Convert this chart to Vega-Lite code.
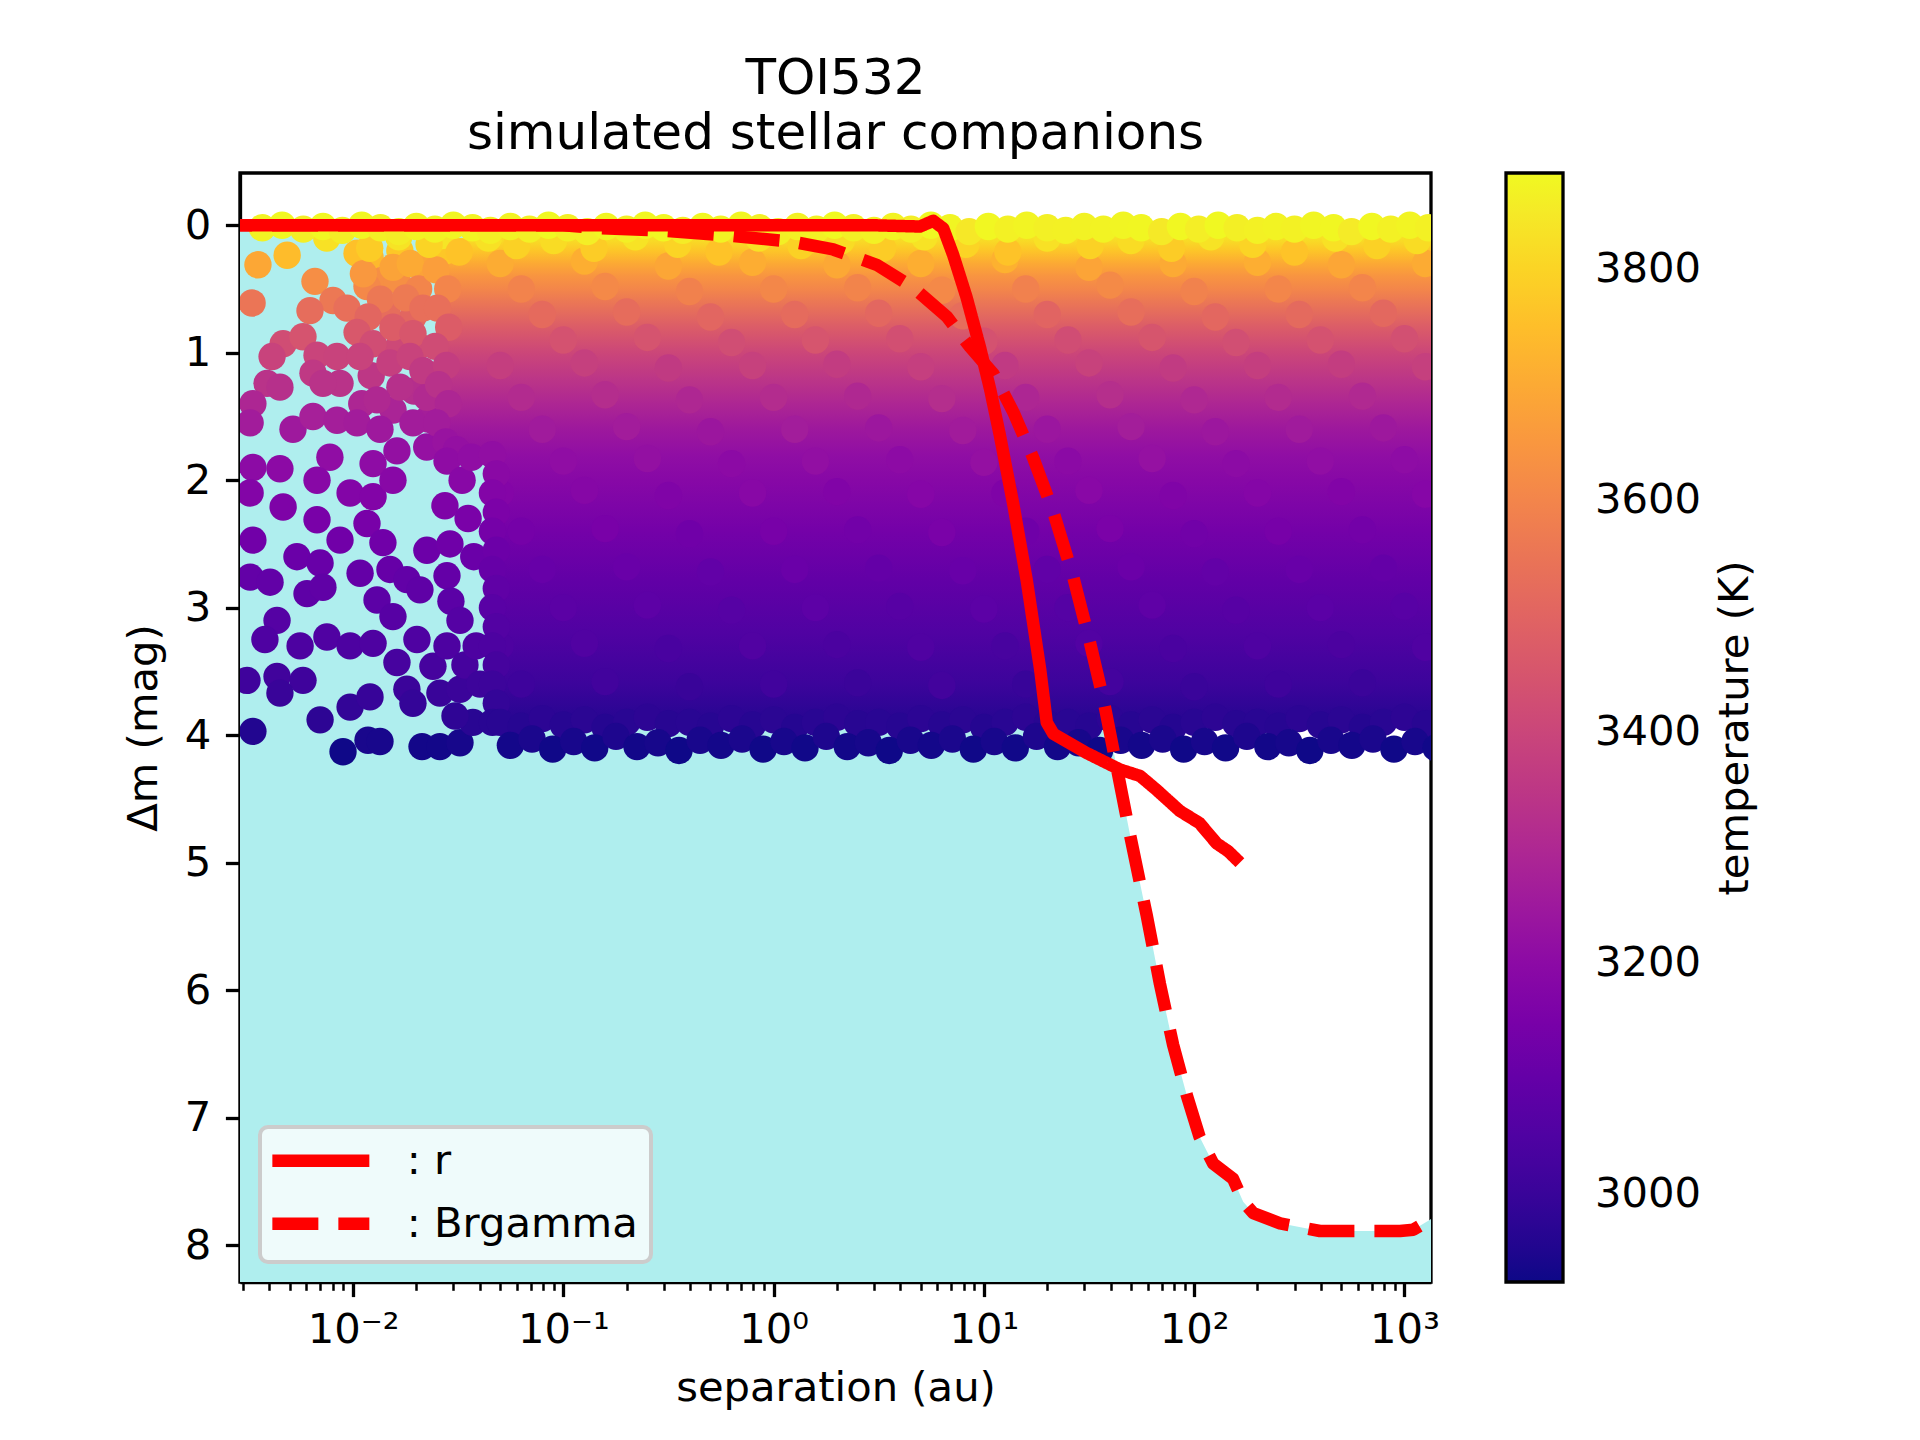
{
"$schema": "https://vega.github.io/schema/vega-lite/v6.json",
"width": 1191,
"height": 1109,
"autosize": {"type": "none"},
"padding": {"left": 240, "top": 173, "right": 489, "bottom": 158},
"background": "white",
"title": {"text": ["TOI532", "simulated stellar companions"], "fontSize": 50, "font": "DejaVu Sans", "fontWeight": "normal", "color": "black", "anchor": "middle", "lineHeight": 55, "offset": 14},
"resolve": {"axis": {"y": "independent"}},
"datasets": {
"curves": [
{"s":0.002,"m":0.0,"band":": r"},{"s":0.1,"m":0.0,"band":": r"},{"s":1.0,"m":0.0,"band":": r"},{"s":3.0,"m":0.0,"band":": r"},{"s":4.97,"m":0.01,"band":": r"},{"s":5.74,"m":-0.035,"band":": r"},{"s":6.41,"m":0.025,"band":": r"},{"s":7.15,"m":0.235,"band":": r"},{"s":8.27,"m":0.565,"band":": r"},{"s":9.57,"m":0.955,"band":": r"},{"s":10.7,"m":1.285,"band":": r"},{"s":11.9,"m":1.645,"band":": r"},{"s":13.8,"m":2.19,"band":": r"},{"s":16.0,"m":2.79,"band":": r"},{"s":18.5,"m":3.48,"band":": r"},{"s":19.9,"m":3.9,"band":": r"},{"s":21.4,"m":3.99,"band":": r"},{"s":30.8,"m":4.14,"band":": r"},{"s":44.4,"m":4.27,"band":": r"},{"s":55.3,"m":4.32,"band":": r"},{"s":66.3,"m":4.43,"band":": r"},{"s":85.5,"m":4.595,"band":": r"},{"s":106,"m":4.69,"band":": r"},{"s":128,"m":4.85,"band":": r"},{"s":145,"m":4.91,"band":": r"},{"s":165,"m":5.0,"band":": r"},
{"s":0.002,"m":0.0,"band":": Brgamma"},{"s":0.1,"m":0.0,"band":": Brgamma"},{"s":0.138,"m":0.02,"band":": Brgamma"},{"s":0.288,"m":0.04,"band":": Brgamma"},{"s":0.6,"m":0.08,"band":": Brgamma"},{"s":1.24,"m":0.13,"band":": Brgamma"},{"s":1.92,"m":0.19,"band":": Brgamma"},{"s":3.09,"m":0.31,"band":": Brgamma"},{"s":4.62,"m":0.49,"band":": Brgamma"},{"s":6.65,"m":0.715,"band":": Brgamma"},{"s":8.59,"m":0.955,"band":": Brgamma"},{"s":11.1,"m":1.165,"band":": Brgamma"},{"s":13.8,"m":1.465,"band":": Brgamma"},{"s":17.2,"m":1.83,"band":": Brgamma"},{"s":21.4,"m":2.25,"band":": Brgamma"},{"s":26.6,"m":2.76,"band":": Brgamma"},{"s":31.9,"m":3.27,"band":": Brgamma"},{"s":37,"m":3.72,"band":": Brgamma"},{"s":42.8,"m":4.25,"band":": Brgamma"},{"s":49.5,"m":4.78,"band":": Brgamma"},{"s":59.4,"m":5.41,"band":": Brgamma"},{"s":68.7,"m":5.95,"band":": Brgamma"},{"s":79.4,"m":6.43,"band":": Brgamma"},{"s":92,"m":6.82,"band":": Brgamma"},{"s":106,"m":7.15,"band":": Brgamma"},{"s":123,"m":7.36,"band":": Brgamma"},{"s":153,"m":7.48,"band":": Brgamma"},{"s":171,"m":7.66,"band":": Brgamma"},{"s":191,"m":7.75,"band":": Brgamma"},{"s":256,"m":7.83,"band":": Brgamma"},{"s":396,"m":7.89,"band":": Brgamma"},{"s":685,"m":7.89,"band":": Brgamma"},{"s":952,"m":7.89,"band":": Brgamma"},{"s":1102,"m":7.88,"band":": Brgamma"},{"s":1298,"m":7.81,"band":": Brgamma"},{"s":1500,"m":7.74,"band":": Brgamma"}
],
"pts": [
{"s":0.0501,"m":0.3,"t":3705},{"s":0.126,"m":0.28,"t":3712},{"s":0.316,"m":0.32,"t":3690},{"s":0.794,"m":0.29,"t":3708},{"s":2.0,"m":0.31,"t":3695},{"s":5.01,"m":0.3,"t":3712},{"s":12.6,"m":0.27,"t":3718},{"s":31.6,"m":0.33,"t":3686},{"s":79.4,"m":0.3,"t":3700},{"s":200,"m":0.29,"t":3710},{"s":501,"m":0.31,"t":3692},{"s":1259,"m":0.3,"t":3703},
{"s":0.0631,"m":0.5,"t":3595},{"s":0.158,"m":0.48,"t":3612},{"s":0.398,"m":0.52,"t":3590},{"s":1.0,"m":0.5,"t":3606},{"s":2.51,"m":0.49,"t":3598},{"s":6.31,"m":0.51,"t":3610},{"s":15.8,"m":0.5,"t":3588},{"s":39.8,"m":0.47,"t":3615},{"s":100,"m":0.52,"t":3592},{"s":251,"m":0.5,"t":3604},{"s":631,"m":0.49,"t":3600},
{"s":0.0794,"m":0.7,"t":3520},{"s":0.2,"m":0.68,"t":3525},{"s":0.501,"m":0.72,"t":3505},{"s":1.26,"m":0.7,"t":3522},{"s":3.16,"m":0.69,"t":3510},{"s":7.94,"m":0.71,"t":3528},{"s":20,"m":0.7,"t":3500},{"s":50.1,"m":0.68,"t":3530},{"s":126,"m":0.72,"t":3508},{"s":316,"m":0.7,"t":3518},{"s":794,"m":0.69,"t":3512},
{"s":0.1,"m":0.9,"t":3440},{"s":0.251,"m":0.88,"t":3445},{"s":0.631,"m":0.92,"t":3425},{"s":1.58,"m":0.9,"t":3448},{"s":3.98,"m":0.89,"t":3430},{"s":10,"m":0.91,"t":3438},{"s":25.1,"m":0.9,"t":3422},{"s":63.1,"m":0.88,"t":3450},{"s":158,"m":0.92,"t":3428},{"s":398,"m":0.9,"t":3440},{"s":1000,"m":0.89,"t":3432},
{"s":0.0501,"m":1.1,"t":3375},{"s":0.126,"m":1.08,"t":3380},{"s":0.316,"m":1.12,"t":3362},{"s":0.794,"m":1.1,"t":3385},{"s":2.0,"m":1.09,"t":3368},{"s":5.01,"m":1.11,"t":3378},{"s":12.6,"m":1.1,"t":3360},{"s":31.6,"m":1.08,"t":3388},{"s":79.4,"m":1.12,"t":3365},{"s":200,"m":1.1,"t":3376},{"s":501,"m":1.09,"t":3370},{"s":1259,"m":1.11,"t":3380},
{"s":0.0631,"m":1.35,"t":3310},{"s":0.158,"m":1.33,"t":3318},{"s":0.398,"m":1.37,"t":3298},{"s":1.0,"m":1.35,"t":3315},{"s":2.51,"m":1.34,"t":3302},{"s":6.31,"m":1.36,"t":3320},{"s":15.8,"m":1.35,"t":3295},{"s":39.8,"m":1.33,"t":3322},{"s":100,"m":1.37,"t":3300},{"s":251,"m":1.35,"t":3312},{"s":631,"m":1.34,"t":3305},
{"s":0.0794,"m":1.6,"t":3255},{"s":0.2,"m":1.58,"t":3260},{"s":0.501,"m":1.62,"t":3242},{"s":1.26,"m":1.6,"t":3262},{"s":3.16,"m":1.59,"t":3245},{"s":7.94,"m":1.61,"t":3258},{"s":20,"m":1.6,"t":3240},{"s":50.1,"m":1.58,"t":3265},{"s":126,"m":1.62,"t":3244},{"s":316,"m":1.6,"t":3255},{"s":794,"m":1.59,"t":3248},
{"s":0.1,"m":1.85,"t":3212},{"s":0.251,"m":1.83,"t":3220},{"s":0.631,"m":1.87,"t":3200},{"s":1.58,"m":1.85,"t":3218},{"s":3.98,"m":1.84,"t":3204},{"s":10,"m":1.86,"t":3222},{"s":25.1,"m":1.85,"t":3198},{"s":63.1,"m":1.83,"t":3224},{"s":158,"m":1.87,"t":3202},{"s":398,"m":1.85,"t":3214},{"s":1000,"m":1.84,"t":3206},
{"s":0.0501,"m":2.1,"t":3180},{"s":0.126,"m":2.08,"t":3186},{"s":0.316,"m":2.12,"t":3168},{"s":0.794,"m":2.1,"t":3190},{"s":2.0,"m":2.09,"t":3172},{"s":5.01,"m":2.11,"t":3185},{"s":12.6,"m":2.1,"t":3166},{"s":31.6,"m":2.08,"t":3192},{"s":79.4,"m":2.12,"t":3170},{"s":200,"m":2.1,"t":3182},{"s":501,"m":2.09,"t":3174},{"s":1259,"m":2.11,"t":3185},
{"s":0.0631,"m":2.4,"t":3142},{"s":0.158,"m":2.38,"t":3150},{"s":0.398,"m":2.42,"t":3130},{"s":1.0,"m":2.4,"t":3148},{"s":2.51,"m":2.39,"t":3134},{"s":6.31,"m":2.41,"t":3152},{"s":15.8,"m":2.4,"t":3128},{"s":39.8,"m":2.38,"t":3155},{"s":100,"m":2.42,"t":3132},{"s":251,"m":2.4,"t":3145},{"s":631,"m":2.39,"t":3137},
{"s":0.0794,"m":2.7,"t":3108},{"s":0.2,"m":2.68,"t":3114},{"s":0.501,"m":2.72,"t":3096},{"s":1.26,"m":2.7,"t":3115},{"s":3.16,"m":2.69,"t":3100},{"s":7.94,"m":2.71,"t":3112},{"s":20,"m":2.7,"t":3094},{"s":50.1,"m":2.68,"t":3118},{"s":126,"m":2.72,"t":3098},{"s":316,"m":2.7,"t":3110},{"s":794,"m":2.69,"t":3102},
{"s":0.1,"m":3.0,"t":3078},{"s":0.251,"m":2.98,"t":3084},{"s":0.631,"m":3.02,"t":3066},{"s":1.58,"m":3.0,"t":3085},{"s":3.98,"m":2.99,"t":3070},{"s":10,"m":3.01,"t":3082},{"s":25.1,"m":3.0,"t":3064},{"s":63.1,"m":2.98,"t":3088},{"s":158,"m":3.02,"t":3068},{"s":398,"m":3.0,"t":3080},{"s":1000,"m":2.99,"t":3072},
{"s":0.0501,"m":3.3,"t":3048},{"s":0.126,"m":3.28,"t":3054},{"s":0.316,"m":3.32,"t":3036},{"s":0.794,"m":3.3,"t":3055},{"s":2.0,"m":3.29,"t":3040},{"s":5.01,"m":3.31,"t":3052},{"s":12.6,"m":3.3,"t":3034},{"s":31.6,"m":3.28,"t":3058},{"s":79.4,"m":3.32,"t":3038},{"s":200,"m":3.3,"t":3050},{"s":501,"m":3.29,"t":3042},{"s":1259,"m":3.31,"t":3052},
{"s":0.0631,"m":3.6,"t":3012},{"s":0.158,"m":3.58,"t":3020},{"s":0.398,"m":3.62,"t":3000},{"s":1.0,"m":3.6,"t":3018},{"s":2.51,"m":3.59,"t":3004},{"s":6.31,"m":3.61,"t":3022},{"s":15.8,"m":3.6,"t":2998},{"s":39.8,"m":3.58,"t":3024},{"s":100,"m":3.62,"t":3002},{"s":251,"m":3.6,"t":3014},{"s":631,"m":3.59,"t":3006},
{"s":0.00486,"m":0.235,"t":3745},{"s":0.00353,"m":0.31,"t":3694},{"s":0.00659,"m":0.44,"t":3624},{"s":0.00331,"m":0.61,"t":3551},{"s":0.01204,"m":0.25,"t":3735},{"s":0.01387,"m":0.43,"t":3628},{"s":0.01617,"m":0.43,"t":3628},{"s":0.02244,"m":0.33,"t":3682},{"s":0.01165,"m":0.48,"t":3608},{"s":0.01449,"m":0.67,"t":3527},{"s":0.01927,"m":0.72,"t":3507},{"s":0.00803,"m":0.59,"t":3560},{"s":0.00936,"m":0.65,"t":3535},{"s":0.00624,"m":0.67,"t":3527},{"s":0.01045,"m":0.22,"t":3756},{"s":0.0167,"m":0.2,"t":3770},{"s":0.0155,"m":0.33,"t":3682},{"s":0.0187,"m":0.3,"t":3700},{"s":0.0205,"m":0.5,"t":3600},
{"s":0.0112,"m":0.38,"t":3652},{"s":0.0135,"m":0.58,"t":3560},{"s":0.0178,"m":0.57,"t":3565},{"s":0.0215,"m":0.65,"t":3535},{"s":0.0118,"m":0.72,"t":3507},{"s":0.0162,"m":0.97,"t":3410},{"s":0.0205,"m":0.95,"t":3418},{"s":0.0122,"m":1.18,"t":3350},{"s":0.0155,"m":1.45,"t":3285},{"s":0.0195,"m":1.3,"t":3320},{"s":0.0228,"m":1.52,"t":3266},{"s":0.011,"m":1.4,"t":3295},
{"s":0.00465,"m":0.93,"t":3424},{"s":0.00578,"m":0.875,"t":3445},{"s":0.00412,"m":1.03,"t":3392},{"s":0.00674,"m":1.02,"t":3395},{"s":0.00839,"m":1.03,"t":3392},{"s":0.01045,"m":0.84,"t":3459},{"s":0.01245,"m":0.93,"t":3424},{"s":0.01548,"m":0.8,"t":3475},{"s":0.01927,"m":0.85,"t":3455},{"s":0.0039,"m":1.24,"t":3335},{"s":0.00449,"m":1.27,"t":3327},{"s":0.00645,"m":1.16,"t":3356},{"s":0.00867,"m":1.24,"t":3335},{"s":0.0108,"m":1.03,"t":3392},{"s":0.01498,"m":1.08,"t":3378},{"s":0.01865,"m":1.03,"t":3392},{"s":0.02148,"m":1.14,"t":3361},{"s":0.00334,"m":1.4,"t":3295},{"s":0.00719,"m":1.24,"t":3335},{"s":0.0167,"m":1.27,"t":3327},{"s":0.013,"m":1.37,"t":3302},{"s":0.02244,"m":1.35,"t":3307},{"s":0.00324,"m":1.55,"t":3261},{"s":0.00518,"m":1.6,"t":3250},{"s":0.00645,"m":1.5,"t":3272},{"s":0.00839,"m":1.53,"t":3266},{"s":0.01045,"m":1.55,"t":3261},{"s":0.01343,"m":1.6,"t":3250},{"s":0.01927,"m":1.55,"t":3261},{"s":0.0224,"m":1.74,"t":3225},
{"s":0.0275,"m":0.2,"t":3770},{"s":0.0248,"m":0.35,"t":3670},{"s":0.0282,"m":0.5,"t":3600},{"s":0.0252,"m":0.65,"t":3535},{"s":0.0285,"m":0.8,"t":3475},{"s":0.0246,"m":0.95,"t":3418},{"s":0.0278,"m":1.1,"t":3372},{"s":0.0255,"m":1.25,"t":3332},{"s":0.0284,"m":1.4,"t":3295},{"s":0.025,"m":1.55,"t":3261},{"s":0.0276,"m":1.7,"t":3232},{"s":0.0265,"m":0.08,"t":3840},{"s":0.031,"m":1.76,"t":3222},
{"s":0.00334,"m":1.9,"t":3202},{"s":0.00449,"m":1.91,"t":3201},{"s":0.00776,"m":1.82,"t":3213},{"s":0.01245,"m":1.87,"t":3206},{"s":0.01617,"m":1.77,"t":3220},{"s":0.00674,"m":2.0,"t":3190},{"s":0.00968,"m":2.1,"t":3177},{"s":0.01245,"m":2.13,"t":3174},{"s":0.01548,"m":2.0,"t":3190},{"s":0.00324,"m":2.1,"t":3177},{"s":0.00465,"m":2.21,"t":3164},{"s":0.00674,"m":2.31,"t":3151},{"s":0.00867,"m":2.47,"t":3131},{"s":0.01165,"m":2.34,"t":3148},{"s":0.01387,"m":2.49,"t":3129},{"s":0.00334,"m":2.47,"t":3131},{"s":0.00541,"m":2.6,"t":3115},{"s":0.00697,"m":2.65,"t":3110},{"s":0.0108,"m":2.73,"t":3102},{"s":0.01498,"m":2.7,"t":3105},{"s":0.01803,"m":2.78,"t":3097},{"s":0.0208,"m":2.86,"t":3089},{"s":0.02244,"m":2.55,"t":3121},{"s":0.00324,"m":2.76,"t":3099},{"s":0.00403,"m":2.8,"t":3095},{"s":0.00604,"m":2.89,"t":3086},{"s":0.00719,"m":2.84,"t":3091},{"s":0.013,"m":2.94,"t":3081},{"s":0.01548,"m":3.07,"t":3068},{"s":0.00435,"m":3.1,"t":3065},{"s":0.00381,"m":3.25,"t":3050},{"s":0.0056,"m":3.3,"t":3045},{"s":0.00751,"m":3.23,"t":3052},{"s":0.00968,"m":3.3,"t":3045},{"s":0.01245,"m":3.28,"t":3047},{"s":0.02013,"m":3.25,"t":3050},{"s":0.01617,"m":3.43,"t":3031},{"s":0.02398,"m":3.46,"t":3028},{"s":0.00313,"m":3.57,"t":3014},{"s":0.00435,"m":3.54,"t":3017},{"s":0.00578,"m":3.57,"t":3014},{"s":0.00449,"m":3.67,"t":3001},{"s":0.00968,"m":3.78,"t":2988},{"s":0.01204,"m":3.7,"t":2997},{"s":0.01803,"m":3.64,"t":3005},{"s":0.01927,"m":3.75,"t":2991},{"s":0.02588,"m":3.67,"t":3001},{"s":0.03225,"m":3.64,"t":3005},{"s":0.00697,"m":3.88,"t":2976},{"s":0.00334,"m":3.97,"t":2955},{"s":0.00896,"m":4.13,"t":2927},{"s":0.01178,"m":4.04,"t":2942},{"s":0.01343,"m":4.05,"t":2940},{"s":0.02128,"m":4.09,"t":2932},{"s":0.02588,"m":4.09,"t":2932},{"s":0.03225,"m":4.06,"t":2938},{"s":0.03715,"m":3.9,"t":2968},
{"s":0.02797,"m":1.85,"t":3209},{"s":0.033,"m":2.0,"t":3190},{"s":0.0365,"m":1.82,"t":3213},{"s":0.02735,"m":2.2,"t":3165},{"s":0.03524,"m":2.3,"t":3152},{"s":0.02889,"m":2.5,"t":3127},{"s":0.0375,"m":2.6,"t":3115},{"s":0.02797,"m":2.75,"t":3100},{"s":0.0292,"m":2.95,"t":3080},{"s":0.03225,"m":3.1,"t":3065},{"s":0.02797,"m":3.3,"t":3045},{"s":0.03404,"m":3.45,"t":3029},{"s":0.0385,"m":3.3,"t":3045},{"s":0.04015,"m":3.6,"t":3010},{"s":0.03053,"m":3.85,"t":2979},
{"s":0.046,"m":1.8,"t":3215},{"s":0.048,"m":1.95,"t":3196},{"s":0.046,"m":2.1,"t":3177},{"s":0.048,"m":2.25,"t":3158},{"s":0.046,"m":2.4,"t":3140},{"s":0.048,"m":2.55,"t":3121},{"s":0.046,"m":2.7,"t":3105},{"s":0.048,"m":2.85,"t":3090},{"s":0.046,"m":3.0,"t":3075},{"s":0.048,"m":3.15,"t":3060},{"s":0.046,"m":3.3,"t":3045},{"s":0.048,"m":3.45,"t":3029},{"s":0.046,"m":3.6,"t":3010},{"s":0.048,"m":3.75,"t":2991},{"s":0.046,"m":3.9,"t":2968},
{"s":0.0501,"m":3.9,"t":2968},{"s":0.063,"m":3.93,"t":2963},{"s":0.0794,"m":3.87,"t":2973},{"s":0.1,"m":3.92,"t":2964},{"s":0.126,"m":3.88,"t":2971},{"s":0.158,"m":3.94,"t":2960},{"s":0.2,"m":3.9,"t":2968},{"s":0.251,"m":3.86,"t":2975},{"s":0.316,"m":3.91,"t":2966},{"s":0.398,"m":3.9,"t":2968},{"s":0.501,"m":3.93,"t":2963},{"s":0.631,"m":3.87,"t":2973},{"s":0.794,"m":3.92,"t":2964},{"s":1.0,"m":3.88,"t":2971},{"s":1.26,"m":3.94,"t":2960},{"s":1.58,"m":3.9,"t":2968},{"s":2.0,"m":3.86,"t":2975},{"s":2.51,"m":3.91,"t":2966},{"s":3.16,"m":3.9,"t":2968},{"s":3.98,"m":3.93,"t":2963},{"s":5.01,"m":3.87,"t":2973},{"s":6.31,"m":3.92,"t":2964},{"s":7.94,"m":3.88,"t":2971},{"s":10,"m":3.94,"t":2960},{"s":12.6,"m":3.9,"t":2968},{"s":15.8,"m":3.86,"t":2975},{"s":20,"m":3.91,"t":2966},{"s":25.1,"m":3.9,"t":2968},{"s":31.6,"m":3.93,"t":2963},{"s":39.8,"m":3.87,"t":2973},{"s":50.1,"m":3.92,"t":2964},{"s":63.1,"m":3.88,"t":2971},{"s":79.4,"m":3.94,"t":2960},{"s":100,"m":3.9,"t":2968},{"s":126,"m":3.86,"t":2975},{"s":158,"m":3.91,"t":2966},{"s":200,"m":3.9,"t":2968},{"s":251,"m":3.93,"t":2963},{"s":316,"m":3.87,"t":2973},{"s":398,"m":3.92,"t":2964},{"s":501,"m":3.88,"t":2971},{"s":631,"m":3.94,"t":2960},{"s":794,"m":3.9,"t":2968},{"s":1000,"m":3.86,"t":2975},{"s":1259,"m":3.91,"t":2966},
{"s":0.056,"m":4.08,"t":2934},{"s":0.071,"m":4.03,"t":2944},{"s":0.089,"m":4.11,"t":2928},{"s":0.112,"m":4.05,"t":2940},{"s":0.141,"m":4.1,"t":2930},{"s":0.178,"m":4.01,"t":2948},{"s":0.224,"m":4.09,"t":2932},{"s":0.282,"m":4.06,"t":2938},{"s":0.355,"m":4.12,"t":2927},{"s":0.447,"m":4.04,"t":2942},{"s":0.562,"m":4.08,"t":2934},{"s":0.708,"m":4.03,"t":2944},{"s":0.891,"m":4.11,"t":2928},{"s":1.12,"m":4.05,"t":2940},{"s":1.41,"m":4.1,"t":2930},{"s":1.78,"m":4.01,"t":2948},{"s":2.24,"m":4.09,"t":2932},{"s":2.82,"m":4.06,"t":2938},{"s":3.55,"m":4.12,"t":2927},{"s":4.47,"m":4.04,"t":2942},{"s":5.62,"m":4.08,"t":2934},{"s":7.08,"m":4.03,"t":2944},{"s":8.91,"m":4.11,"t":2928},{"s":11.2,"m":4.05,"t":2940},{"s":14.1,"m":4.1,"t":2930},{"s":17.8,"m":4.01,"t":2948},{"s":22.4,"m":4.09,"t":2932},{"s":28.2,"m":4.06,"t":2938},{"s":35.5,"m":4.12,"t":2927},{"s":44.7,"m":4.04,"t":2942},{"s":56.2,"m":4.08,"t":2934},{"s":70.8,"m":4.03,"t":2944},{"s":89.1,"m":4.11,"t":2928},{"s":112,"m":4.05,"t":2940},{"s":141,"m":4.1,"t":2930},{"s":178,"m":4.01,"t":2948},{"s":224,"m":4.09,"t":2932},{"s":282,"m":4.06,"t":2938},{"s":355,"m":4.12,"t":2927},{"s":447,"m":4.04,"t":2942},{"s":562,"m":4.08,"t":2934},{"s":708,"m":4.03,"t":2944},{"s":891,"m":4.11,"t":2928},{"s":1122,"m":4.05,"t":2940},{"s":1413,"m":4.1,"t":2930},
{"s":0.0075,"m":0.1,"t":3830},{"s":0.012,"m":0.18,"t":3782},{"s":0.0165,"m":0.09,"t":3835},{"s":0.023,"m":0.15,"t":3800},{"s":0.032,"m":0.21,"t":3763},{"s":0.044,"m":0.1,"t":3830},{"s":0.06,"m":0.16,"t":3794},{"s":0.09,"m":0.12,"t":3818},{"s":0.14,"m":0.18,"t":3782},{"s":0.22,"m":0.09,"t":3835},{"s":0.35,"m":0.15,"t":3800},{"s":0.55,"m":0.21,"t":3763},{"s":0.85,"m":0.1,"t":3830},{"s":1.35,"m":0.16,"t":3794},{"s":2.1,"m":0.12,"t":3818},{"s":3.3,"m":0.18,"t":3782},{"s":5.2,"m":0.09,"t":3835},{"s":8.2,"m":0.15,"t":3800},{"s":13,"m":0.21,"t":3763},{"s":20,"m":0.1,"t":3830},{"s":32,"m":0.16,"t":3794},{"s":50,"m":0.12,"t":3818},{"s":78,"m":0.18,"t":3782},{"s":120,"m":0.09,"t":3835},{"s":190,"m":0.15,"t":3800},{"s":300,"m":0.21,"t":3763},{"s":470,"m":0.1,"t":3830},{"s":740,"m":0.16,"t":3794},{"s":1150,"m":0.12,"t":3818},
{"s":0.0037,"m":0.02,"t":3870},{"s":0.0046,"m":0.0,"t":3878},{"s":0.0058,"m":0.03,"t":3859},{"s":0.0072,"m":0.01,"t":3879},{"s":0.0089,"m":0.04,"t":3857},{"s":0.011,"m":0.0,"t":3876},{"s":0.0135,"m":0.02,"t":3862},{"s":0.0165,"m":0.05,"t":3855},{"s":0.02,"m":0.01,"t":3871},{"s":0.0245,"m":0.03,"t":3869},{"s":0.03,"m":0.0,"t":3874},{"s":0.037,"m":0.02,"t":3870},{"s":0.045,"m":0.04,"t":3860},{"s":0.056,"m":0.01,"t":3869},{"s":0.069,"m":0.03,"t":3863},{"s":0.085,"m":0.0,"t":3880},{"s":0.105,"m":0.02,"t":3862},{"s":0.13,"m":0.05,"t":3859},{"s":0.16,"m":0.01,"t":3875},{"s":0.2,"m":0.03,"t":3861},{"s":0.245,"m":0.0,"t":3876},{"s":0.3,"m":0.02,"t":3878},{"s":0.37,"m":0.04,"t":3854},{"s":0.46,"m":0.01,"t":3879},{"s":0.56,"m":0.03,"t":3871},{"s":0.7,"m":0.0,"t":3874},{"s":0.86,"m":0.02,"t":3864},{"s":1.05,"m":0.05,"t":3861},{"s":1.3,"m":0.01,"t":3867},{"s":1.6,"m":0.03,"t":3865},{"s":1.95,"m":0.0,"t":3883},{"s":2.4,"m":0.02,"t":3862},{"s":3.0,"m":0.04,"t":3866},{"s":3.7,"m":0.01,"t":3871},{"s":4.5,"m":0.03,"t":3859},{"s":5.6,"m":0.0,"t":3880},{"s":6.9,"m":0.02,"t":3874},{"s":8.5,"m":0.05,"t":3847},{"s":10.5,"m":0.01,"t":3879},{"s":13,"m":0.03,"t":3867},{"s":16,"m":0.0,"t":3872},{"s":20,"m":0.02,"t":3864},{"s":24.5,"m":0.04,"t":3866},{"s":30,"m":0.01,"t":3869},{"s":37,"m":0.03,"t":3871},{"s":46,"m":0.0,"t":3874},{"s":56,"m":0.02,"t":3876},{"s":70,"m":0.05,"t":3849},{"s":86,"m":0.01,"t":3879},{"s":105,"m":0.03,"t":3859},{"s":130,"m":0.0,"t":3880},{"s":160,"m":0.02,"t":3862},{"s":200,"m":0.04,"t":3866},{"s":245,"m":0.01,"t":3871},{"s":300,"m":0.03,"t":3865},{"s":370,"m":0.0,"t":3874},{"s":460,"m":0.02,"t":3876},{"s":560,"m":0.05,"t":3853},{"s":700,"m":0.01,"t":3879},{"s":860,"m":0.03,"t":3867},{"s":1060,"m":0.0,"t":3872},{"s":1300,"m":0.02,"t":3866}
]
},
"layer": [
{
"data": {"name": "curves"},
"transform": [{"filter": "datum.band == ': Brgamma'"}],
"mark": {"type": "area", "color": "#afeeee", "opacity": 1, "clip": true},
"encoding": {
"x": {"field": "s", "type": "quantitative", "scale": {"type": "log", "domain": [0.0029, 1337], "nice": false},
"axis": {"title": "separation (au)",
"values": [0.003,0.004,0.005,0.006,0.007,0.008,0.009,0.01,0.02,0.03,0.04,0.05,0.06,0.07,0.08,0.09,0.1,0.2,0.3,0.4,0.5,0.6,0.7,0.8,0.9,1,2,3,4,5,6,7,8,9,10,20,30,40,50,60,70,80,90,100,200,300,400,500,600,700,800,900,1000],
"labelExpr": "datum.value == 0.01 ? '10⁻²' : datum.value == 0.1 ? '10⁻¹' : datum.value == 1 ? '10⁰' : datum.value == 10 ? '10¹' : datum.value == 100 ? '10²' : datum.value == 1000 ? '10³' : ''",
"tickSize": {"condition": {"test": "indexof([0.01,0.1,1,10,100,1000], datum.value) < 0", "value": 8.3}, "value": 14.6},
"tickWidth": {"condition": {"test": "indexof([0.01,0.1,1,10,100,1000], datum.value) < 0", "value": 2.5}, "value": 3.3},
"labelPadding": 13, "labelBaseline": "top",
"titleX": 595.5, "titleY": 118, "titleBaseline": "alphabetic", "titleAlign": "center", "titleAnchor": "middle"}},
"y": {"field": "m", "type": "quantitative", "scale": {"domain": [-0.41, 8.29], "reverse": true, "nice": false, "zero": false},
"axis": {"title": "Δm (mag)", "values": [0,1,2,3,4,5,6,7,8], "format": "d", "labelPadding": 14.6, "titleX": -97, "titleY": 554.5, "titleAngle": 270, "titleBaseline": "middle", "titleAlign": "center"}},
"y2": {"datum": 9}
}
},
{
"data": {"values": [{"s1": 0.027, "s2": 0.06, "m1": 0.1, "m2": 1.75}]},
"mark": {"type": "rect", "clip": true, "strokeWidth": 0,
"fill": {"gradient": "linear", "x1": 0, "y1": 0, "x2": 0, "y2": 1, "stops": [
{"offset": 0, "color": "#f7e025"},{"offset": 0.0606, "color": "#fdc528"},{"offset": 0.121, "color": "#fca934"},{"offset": 0.182, "color": "#f89441"},{"offset": 0.242, "color": "#f3864a"},{"offset": 0.303, "color": "#eb7755"},{"offset": 0.424, "color": "#db5c68"},{"offset": 0.545, "color": "#cb4679"},{"offset": 0.667, "color": "#bc3687"},{"offset": 0.788, "color": "#ad2693"},{"offset": 0.909, "color": "#9d189d"},{"offset": 1, "color": "#9411a1"}]}},
"encoding": {
"x": {"field": "s1", "type": "quantitative"},
"x2": {"field": "s2"},
"y": {"field": "m1", "type": "quantitative",
"axis": {"orient": "right", "title": "temperature (K)", "labels": false, "ticks": false, "domain": false, "titleX": 303, "titleY": 554.5, "titleAngle": 270, "titleBaseline": "middle", "titleAlign": "center"}},
"y2": {"field": "m2"}
}
},
{
"data": {"values": [{"s1": 0.045, "s2": 3000, "m1": 0.05, "m2": 3.9}]},
"mark": {"type": "rect", "clip": true, "strokeWidth": 0,
"fill": {"gradient": "linear", "x1": 0, "y1": 0, "x2": 0, "y2": 1, "stops": [
{"offset": 0, "color": "#f4ec23"},{"offset": 0.013, "color": "#f7e025"},{"offset": 0.039, "color": "#fdc528"},{"offset": 0.065, "color": "#fca934"},{"offset": 0.091, "color": "#f89441"},{"offset": 0.117, "color": "#f3864a"},{"offset": 0.143, "color": "#eb7755"},{"offset": 0.195, "color": "#db5c68"},{"offset": 0.247, "color": "#cb4679"},{"offset": 0.299, "color": "#bc3687"},{"offset": 0.351, "color": "#ad2693"},{"offset": 0.403, "color": "#9d189d"},{"offset": 0.455, "color": "#900ea4"},{"offset": 0.506, "color": "#8708a6"},{"offset": 0.61, "color": "#7401a8"},{"offset": 0.714, "color": "#6100a6"},{"offset": 0.818, "color": "#5002a2"},{"offset": 0.922, "color": "#3c049b"},{"offset": 1, "color": "#260691"}]}},
"encoding": {
"x": {"field": "s1", "type": "quantitative"},
"x2": {"field": "s2"},
"y": {"field": "m1", "type": "quantitative", "axis": null},
"y2": {"field": "m2"}
}
},
{
"data": {"name": "pts"},
"mark": {"type": "circle", "size": 750, "opacity": 1, "clip": true, "strokeWidth": 0},
"encoding": {
"x": {"field": "s", "type": "quantitative"},
"y": {"field": "m", "type": "quantitative", "axis": null},
"color": {"field": "t", "type": "quantitative", "scale": {"scheme": "plasma", "domain": [2924, 3883], "nice": false, "zero": false},
"legend": {"orient": "none", "legendX": 1266, "legendY": 0, "direction": "vertical", "type": "gradient", "gradientLength": 1109, "gradientThickness": 57, "gradientStrokeColor": "black", "gradientStrokeWidth": 3.3, "values": [3000, 3200, 3400, 3600, 3800], "format": "d", "labelFontSize": 41.7, "labelOffset": 32, "labelOverlap": false, "labelLimit": 400, "title": null, "padding": 0}}
}
},
{
"data": {"name": "curves"},
"mark": {"type": "line", "color": "#ff0000", "strokeWidth": 12.5, "clip": true, "strokeCap": "butt", "strokeJoin": "round"},
"encoding": {
"x": {"field": "s", "type": "quantitative"},
"y": {"field": "m", "type": "quantitative", "axis": null},
"strokeDash": {"field": "band", "type": "nominal", "scale": {"domain": [": r", ": Brgamma"], "range": [[1, 0], [46, 20]]},
"legend": {"title": null, "orient": "bottom-left", "offset": 20, "padding": 13, "fillColor": "#effbfb", "strokeColor": "#cccccc", "cornerRadius": 8, "symbolType": "M-4,0H4", "symbolSize": 588, "symbolOffset": 27, "symbolStrokeWidth": 12.5, "symbolStrokeColor": "#ff0000", "symbolFillColor": "transparent", "labelFontSize": 41.7, "labelOffset": 65, "labelLimit": 1000, "rowPadding": 12}}
}
}
],
"config": {
"font": "DejaVu Sans",
"view": {"stroke": "black", "strokeWidth": 3.3},
"axis": {"domainColor": "black", "domainWidth": 3.3, "tickColor": "black", "tickWidth": 3.3, "tickSize": 14.6, "labelFontSize": 41.7, "labelColor": "black", "labelFont": "DejaVu Sans", "titleFontSize": 41.7, "titleFontWeight": "normal", "titleColor": "black", "titleFont": "DejaVu Sans", "grid": false, "labelOverlap": false, "labelFlush": false},
"legend": {"labelFont": "DejaVu Sans", "titleFont": "DejaVu Sans", "labelColor": "black", "titleColor": "black", "strokeWidth": 4}
}
}
